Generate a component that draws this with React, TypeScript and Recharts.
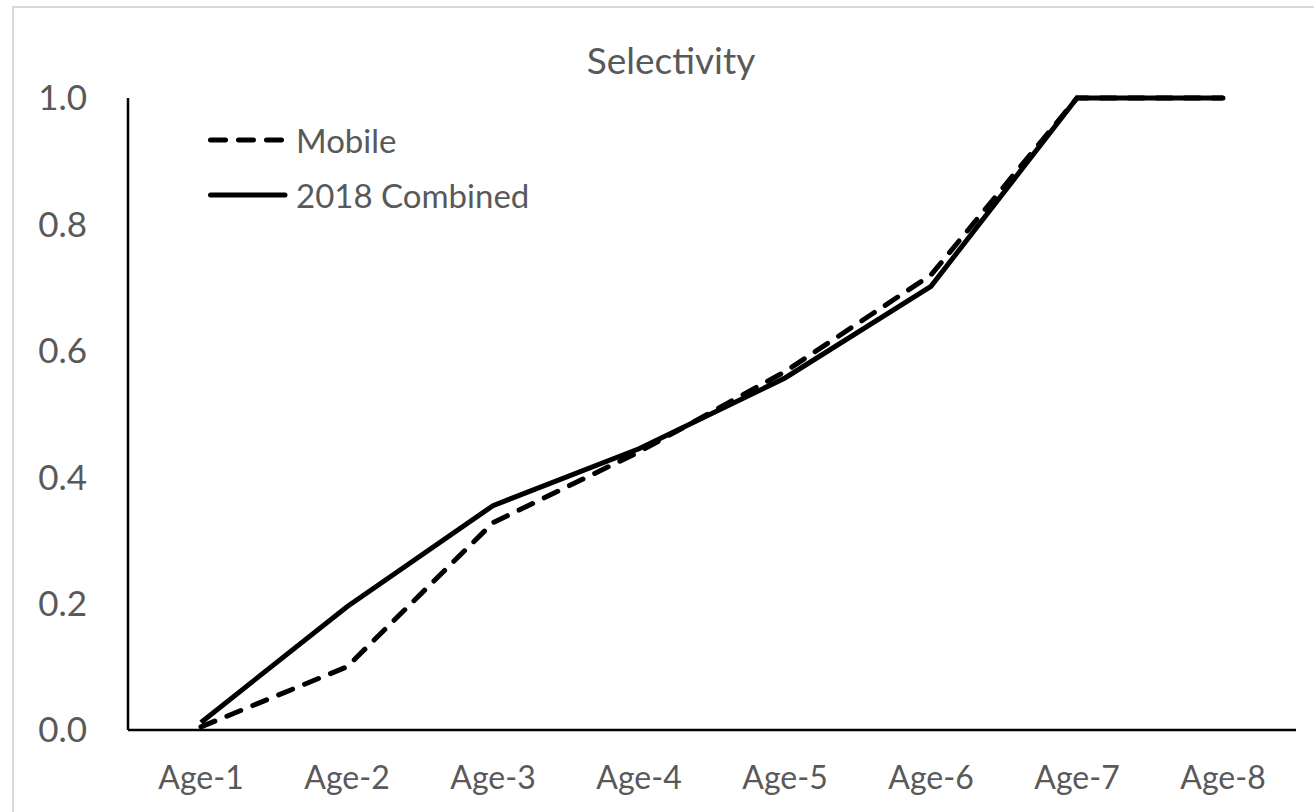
import React from 'react';
import { LineChart, Line, XAxis, YAxis } from 'recharts';

const ages = ['Age-1', 'Age-2', 'Age-3', 'Age-4', 'Age-5', 'Age-6', 'Age-7', 'Age-8'];
const mobile = [0.005, 0.1, 0.328, 0.44, 0.567, 0.72, 1.0, 1.0];
const combined = [0.012, 0.195, 0.355, 0.445, 0.557, 0.702, 1.0, 1.0];
const yTicks = [0, 0.2, 0.4, 0.6, 0.8, 1.0];
const seriesNames = ['Mobile', '2018 Combined'];

const data = ages.map((age, i) => ({ age, mobile: mobile[i], combined: combined[i] }));

const FONT = 'Lato, "Open Sans", sans-serif';
const GREY = '#595959';
const DASH = '15 13';

// legend sits inside the plot, top-left, like the Excel original
function LegendBox() {
  const dashes = [DASH, undefined];
  return (
    <div style={{ position: 'absolute', left: 206, top: 112, fontFamily: FONT, fontSize: 33, color: GREY }}>
      {seriesNames.map((name, i) => (
        <div key={name} style={{ display: 'flex', alignItems: 'center', height: 55 }}>
          <svg width={90} height={12}>
            <line x1={4.5} y1={6} x2={79} y2={6} stroke="#000" strokeWidth={5}
              strokeLinecap="round" strokeDasharray={dashes[i]} />
          </svg>
          <span>{name}</span>
        </div>
      ))}
    </div>
  );
}

export default function App() {
  return (
    <div style={{ position: 'absolute', left: 0, top: 0, width: 1314, height: 812, background: '#fff', overflow: 'hidden' }}>
      <div style={{ position: 'absolute', left: 12, top: 6, width: 1400, height: 900, borderLeft: '2px solid #d9d9d9', borderTop: '2px solid #d9d9d9' }} />
      <div style={{ position: 'absolute', left: 0, width: 1342, top: 37, textAlign: 'center', fontFamily: FONT, fontSize: 37, color: GREY }}>
        Selectivity
      </div>
      <div style={{ position: 'absolute', left: 0, top: 0 }}>
        <LineChart width={1314} height={812} data={data} margin={{ top: 98, right: 18, bottom: 22, left: 28 }}>
          <XAxis dataKey="age" padding={{ left: 73, right: 73 }} axisLine={{ stroke: '#000', strokeWidth: 2.5 }} tickLine={false} tickSize={0} tickMargin={36} height={60}
            tick={{ fill: GREY, fontSize: 32, fontFamily: FONT }} interval={0} />
          <YAxis domain={[0, 1]} ticks={yTicks} tickFormatter={(v: number) => v.toFixed(1)} width={100}
            axisLine={{ stroke: '#000', strokeWidth: 2.5 }} tickLine={false} tickSize={0} tickMargin={41}
            tick={{ fill: GREY, fontSize: 35, fontFamily: FONT }} />
          <Line dataKey="mobile" name={seriesNames[0]} stroke="#000" strokeWidth={5} strokeDasharray={DASH} strokeLinecap="round" dot={false} isAnimationActive={false} />
          <Line dataKey="combined" name={seriesNames[1]} stroke="#000" strokeWidth={5} dot={false} isAnimationActive={false} />
        </LineChart>
      </div>
      <LegendBox />
    </div>
  );
}
